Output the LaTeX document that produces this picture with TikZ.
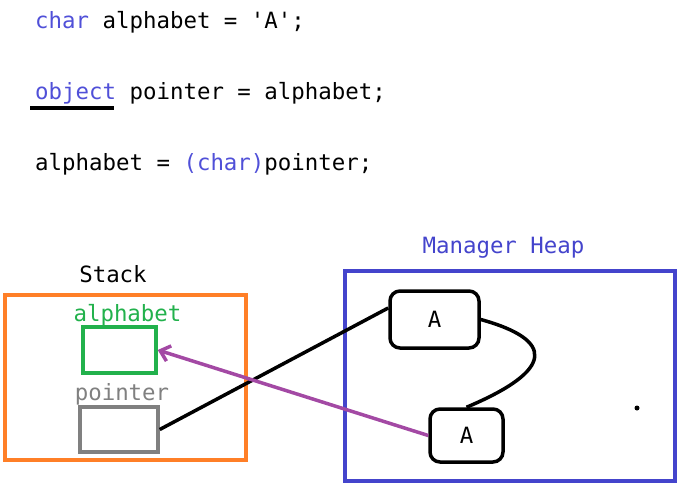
\documentclass[tikz,border=0pt]{standalone}
\usepackage{fontspec}
\setmonofont{DejaVu Sans Mono}
\usetikzlibrary{positioning, arrows.meta, calc}
\definecolor{codeblue}{HTML}{5050D8}
\definecolor{heapblue}{HTML}{4444CC}
\definecolor{stackorange}{HTML}{FF7F27}
\definecolor{slotgreen}{HTML}{22B14C}
\definecolor{slotgrey}{HTML}{808080}
\definecolor{castpurple}{HTML}{A349A4}
\newcommand{\codefont}{\fontsize{22.4}{26}\selectfont\ttfamily}

\tikzset{
  codeline/.style={anchor=base west, inner sep=0pt, font=\codefont},
  label text/.style={anchor=base, inner sep=0pt, font=\codefont},
  frame/.style={draw, line width=3.5pt, inner sep=0pt},
  slot/.style={draw, line width=3.5pt, inner sep=0pt},
  obj/.style={draw=black, line width=3.5pt, rounded corners=10pt, inner sep=0pt, font=\codefont},
  link/.style={black, line width=3.5pt}
}

\begin{document}
\begin{tikzpicture}[x=1pt, y=-1pt]
  \useasboundingbox (0,0) rectangle (694,490);
  % code
  \node[codeline] (line1) at (35,28) {{\color{codeblue}char} alphabet = 'A';};
  \node[codeline] (line2) at (35,99) {{\color{codeblue}object} pointer = alphabet;};
  \node[codeline] (line3) at (35,170) {alphabet = {\color{codeblue}(char)}pointer;};
  \draw[line width=3.5pt] (30,108) -- (114,108);

  % stack
  \node[label text] (stacklbl) at (113,282) {Stack};
  \node[frame, draw=stackorange, minimum width=241pt, minimum height=165pt] (stackframe) at (125.5,377.5) {};
  \node[label text, text=slotgreen] (alphalbl) at (127.5,321) {alphabet};
  \node[slot, draw=slotgreen, minimum width=73pt, minimum height=46pt] (alphaslot) at (119.5,350) {};
  \node[label text, text=slotgrey] (ptrlbl) at (122,400) {pointer};
  \node[slot, draw=slotgrey, minimum width=78pt, minimum height=45pt] (ptrslot) at (119,429.5) {};

  % heap
  \node[label text, text=heapblue] (heaplbl) at (503.5,253) {Manager Heap};
  \node[frame, draw=heapblue, minimum width=330pt, minimum height=210pt] (heapframe) at (510,376) {};
  \node[obj, minimum width=89pt, minimum height=57pt] (objA) at (434.5,319.5) {A};
  \node[obj, minimum width=73pt, minimum height=53pt] (copyA) at (466.5,435.5) {A};
  \fill (637,408) circle (2.5pt);

  % links
  \draw[link] (ptrslot.east) -- (objA.166);
  \draw[link] (objA.east) .. controls (555,340) and (555,370) .. (copyA.north);
  \draw[castpurple, line width=3.5pt, -{Straight Barb[length=9pt, width=16pt]}] (copyA.west) -- (alphaslot.east);
\end{tikzpicture}
\end{document}
